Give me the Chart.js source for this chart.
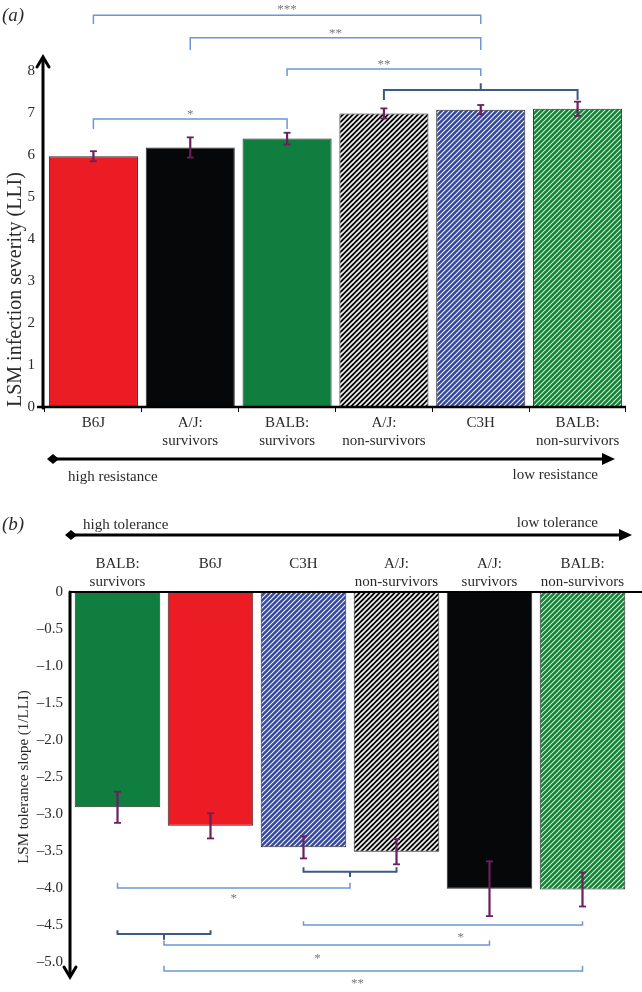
<!DOCTYPE html>
<html lang="en">
<head>
<meta charset="utf-8"/>
<title>LSM infection severity and tolerance</title>
<script src="https://cdn.jsdelivr.net/npm/chart.js"></script>
<style>
  body { margin: 0; background: #fff; }
  #wrap { position: relative; width: 642px; height: 992px; }
  canvas { position: absolute; left: 0; }
  #c1 { top: 0; }
  #c2 { top: 500px; }
</style>
</head>
<body>
<div id="wrap">
<canvas id="c1" width="642" height="500"></canvas>
<canvas id="c2" width="642" height="492"></canvas>
</div>
<script>
// panel (a): resistance
const strainsA = [['B6J'], ['A/J:', 'survivors'], ['BALB:', 'survivors'], ['A/J:', 'non-survivors'], ['C3H'], ['BALB:', 'non-survivors']];
const severity = [5.97, 6.18, 6.39, 6.99, 7.08, 7.10];
const severityErr = [0.12, 0.24, 0.14, 0.12, 0.11, 0.17];
const severityTicks = [0, 1, 2, 3, 4, 5, 6, 7, 8];

// panel (b): tolerance
const strainsB = [['BALB:', 'survivors'], ['B6J', ''], ['C3H', ''], ['A/J:', 'non-survivors'], ['A/J:', 'survivors'], ['BALB:', 'non-survivors']];
const slope = [-2.91, -3.16, -3.45, -3.51, -4.01, -4.02];
const slopeErr = [0.21, 0.17, 0.15, 0.17, 0.37, 0.23];

// significance brackets (category index, value units)
const bracketsA = [
  { from: 0, to: 4, y: 9.33, leg: 9.12, label: '***', labelY: 9.52 },
  { from: 1, to: 4, y: 8.79, leg: 8.50, label: '**', labelY: 8.93 },
  { from: 2, to: 4, y: 8.05, leg: 7.88, label: '**', labelY: 8.19 },
  { from: 3, to: 5, y: 7.55, leg: 7.31, curly: 4, tip: 7.71 },
  { from: 0, to: 2, y: 6.86, leg: 6.62, label: '*', labelY: 7.00 }
];
const bracketsB = [
  { from: 2, to: 3, y: -3.78, leg: -3.72, curly: 2.5, tip: -3.85 },
  { from: 0, to: 2.5, y: -4.00, leg: -3.93, label: '*', labelY: -4.11 },
  { from: 2, to: 5, y: -4.50, leg: -4.45, label: '*', labelY: -4.64, labelX: 3.69 },
  { from: 0, to: 1, y: -4.62, leg: -4.57, curly: 0.5, tip: -4.70 },
  { from: 0.5, to: 4, y: -4.77, leg: -4.71, label: '*', labelY: -4.93, labelX: 2.15 },
  { from: 0.5, to: 5, y: -5.12, leg: -5.05, label: '**', labelY: -5.27, labelX: 2.58 }
];

const SERIF = '"Liberation Serif", "DejaVu Serif", serif';
const TXT = '#2a2a2a';

function stripes(bg, fg, lw) {
  const s = 5;
  const c = document.createElement('canvas');
  c.width = c.height = s;
  const g = c.getContext('2d');
  g.fillStyle = bg; g.fillRect(0, 0, s, s);
  g.strokeStyle = fg; g.lineWidth = lw;
  g.beginPath();
  g.moveTo(-1, s + 1); g.lineTo(s + 1, -1);
  g.moveTo(-1, 1); g.lineTo(1, -1);
  g.moveTo(s - 1, s + 1); g.lineTo(s + 1, s - 1);
  g.stroke();
  return g.createPattern(c, 'repeat');
}

const RED = '#ec1c24', BLACK = '#060708', GREEN = '#0f7e3e';
const hBlack = stripes('#080808', '#f4f4f4', 1.6);
const hBlue = stripes('#33479f', '#eef0fb', 1.15);
const hGreen = stripes('#128236', '#d2efd4', 1.1);

function line(ctx, x1, y1, x2, y2) { ctx.beginPath(); ctx.moveTo(x1, y1); ctx.lineTo(x2, y2); ctx.stroke(); }

function errorBars(ctx, x, y, vals, errs) {
  ctx.strokeStyle = '#6b1f5f';
  vals.forEach((v, i) => {
    const px = x.getPixelForValue(i);
    const a = y.getPixelForValue(v + errs[i]), b = y.getPixelForValue(v - errs[i]);
    ctx.lineWidth = 2.2; line(ctx, px, a, px, b);
    ctx.lineWidth = 1.8; line(ctx, px - 3.5, a, px + 3.5, a); line(ctx, px - 3.5, b, px + 3.5, b);
  });
}

function brackets(ctx, x, y, list) {
  list.forEach(b => {
    const x1 = x.getPixelForValue(b.from), x2 = x.getPixelForValue(b.to);
    const yl = y.getPixelForValue(b.y), yg = y.getPixelForValue(b.leg);
    ctx.strokeStyle = b.curly !== undefined ? '#3d5a82' : '#6b98d2';
    ctx.lineWidth = b.curly !== undefined ? 2 : 1.5;
    ctx.beginPath();
    ctx.moveTo(x1, yg); ctx.lineTo(x1, yl); ctx.lineTo(x2, yl); ctx.lineTo(x2, yg);
    if (b.curly !== undefined) {
      const xm = x.getPixelForValue(b.curly);
      ctx.moveTo(xm, yl); ctx.lineTo(xm, y.getPixelForValue(b.tip));
    }
    ctx.stroke();
    if (b.label) {
      const lx = x.getPixelForValue(b.labelX !== undefined ? b.labelX : (b.from + b.to) / 2);
      ctx.fillStyle = '#7a7a7a';
      ctx.font = '13px ' + SERIF;
      ctx.textAlign = 'center'; ctx.textBaseline = 'middle';
      ctx.fillText(b.label, lx, y.getPixelForValue(b.labelY) + 2);
    }
  });
}

function hArrow(ctx, x1, x2, yy) {
  ctx.strokeStyle = '#000'; ctx.fillStyle = '#000'; ctx.lineWidth = 3.2;
  line(ctx, x1, yy, x2 - 8, yy);
  ctx.beginPath();
  ctx.moveTo(x1 - 6, yy); ctx.lineTo(x1, yy - 5); ctx.lineTo(x1 + 6, yy); ctx.lineTo(x1, yy + 5); ctx.closePath(); ctx.fill();
  ctx.beginPath();
  ctx.moveTo(x2, yy); ctx.lineTo(x2 - 13, yy - 6); ctx.lineTo(x2 - 13, yy + 6); ctx.closePath(); ctx.fill();
}

function label(ctx, t, px, py, align, font) {
  ctx.fillStyle = TXT; ctx.font = font || ('15px ' + SERIF);
  ctx.textAlign = align; ctx.textBaseline = 'middle';
  ctx.fillText(t, px, py);
}

const panelA = {
  id: 'panelA',
  afterDraw(chart) {
    const { ctx, chartArea: a, scales: { x, y } } = chart;
    ctx.save();
    ctx.strokeStyle = '#000'; ctx.lineCap = 'round';
    // y axis with arrow
    ctx.lineWidth = 3;
    line(ctx, a.left - 2, a.bottom + 1, a.left - 2, 59);
    ctx.beginPath(); ctx.moveTo(a.left - 8, 67); ctx.lineTo(a.left - 2, 57); ctx.lineTo(a.left + 4, 67); ctx.stroke();
    // x axis
    ctx.lineCap = 'butt'; ctx.lineWidth = 2.5;
    line(ctx, a.left - 8, a.bottom, a.right, a.bottom);
    errorBars(ctx, x, y, severity, severityErr);
    brackets(ctx, x, y, bracketsA);
    hArrow(ctx, 53, 615, 459);
    label(ctx, 'high resistance', 68, 477, 'left');
    label(ctx, 'low resistance', 598, 475, 'right');
    label(ctx, '(a)', 2, 16, 'left', 'italic 19px ' + SERIF);
    ctx.restore();
  }
};

const panelB = {
  id: 'panelB',
  afterDraw(chart) {
    const { ctx, chartArea: a, scales: { x, y } } = chart;
    ctx.save();
    ctx.strokeStyle = '#000'; ctx.lineCap = 'round';
    ctx.lineWidth = 3;
    line(ctx, a.left - 1, a.top, a.left - 1, 475);
    ctx.beginPath(); ctx.moveTo(a.left - 7, 467); ctx.lineTo(a.left - 1, 477); ctx.lineTo(a.left + 5, 467); ctx.stroke();
    ctx.lineCap = 'butt'; ctx.lineWidth = 2;
    line(ctx, a.left - 1, a.top, 642, a.top);
    errorBars(ctx, x, y, slope, slopeErr);
    brackets(ctx, x, y, bracketsB);
    hArrow(ctx, 71, 632, 35);
    label(ctx, 'high tolerance', 83, 25, 'left');
    label(ctx, 'low tolerance', 598, 23, 'right');
    label(ctx, '(b)', 2, 25, 'left', 'italic 19px ' + SERIF);
    ctx.restore();
  }
};

const tickFont = { family: SERIF, size: 15 };

new Chart(document.getElementById('c1'), {
  type: 'bar',
  data: {
    labels: strainsA,
    datasets: [{
      data: severity,
      backgroundColor: [RED, BLACK, GREEN, hBlack, hBlue, hGreen],
      borderColor: '#2b2b2b',
      borderWidth: 1,
      categoryPercentage: 1,
      barPercentage: 0.92
    }]
  },
  options: {
    responsive: false,
    animation: false,
    events: [],
    layout: { padding: { top: 71, right: 16, left: 0, bottom: 0 } },
    plugins: { legend: { display: false }, tooltip: { enabled: false } },
    scales: {
      x: {
        grid: { display: true, drawOnChartArea: false, tickLength: 5, color: '#000', lineWidth: 1 },
        border: { display: false },
        ticks: { font: tickFont, color: TXT, padding: 2, maxRotation: 0, autoSkip: false },
        afterFit(s) { s.height = 93; }
      },
      y: {
        min: 0, max: 8,
        afterBuildTicks(s) { s.ticks = severityTicks.map(v => ({ value: v })); },
        grid: { display: false, drawTicks: false, tickLength: 0 },
        border: { display: false },
        ticks: { font: tickFont, color: TXT, padding: 10 },
        title: { display: true, text: 'LSM infection severity (LLI)', align: 'start', color: TXT,
                 font: { family: SERIF, size: 20 }, padding: { top: 4, bottom: 0 } },
        afterFit(s) { s.width = 45; }
      }
    }
  },
  plugins: [panelA]
});

new Chart(document.getElementById('c2'), {
  type: 'bar',
  data: {
    labels: strainsB,
    datasets: [{
      data: slope,
      backgroundColor: [GREEN, RED, hBlue, hBlack, BLACK, hGreen],
      borderColor: '#2b2b2b',
      borderWidth: 1,
      categoryPercentage: 1,
      barPercentage: 0.92
    }]
  },
  options: {
    responsive: false,
    animation: false,
    events: [],
    layout: { padding: { top: 0, right: 13, left: 0, bottom: 30 } },
    plugins: { legend: { display: false }, tooltip: { enabled: false } },
    scales: {
      x: {
        position: 'top',
        grid: { display: false, drawTicks: false, tickLength: 0 },
        border: { display: false },
        ticks: { font: tickFont, color: TXT, padding: 1, maxRotation: 0, autoSkip: false },
        afterFit(s) { s.height = 92; }
      },
      y: {
        min: -5, max: 0,
        ticks: { stepSize: 0.5, font: tickFont, color: TXT, padding: 8,
                 callback: v => v === 0 ? '0' : '\u2013' + Math.abs(v).toFixed(1) },
        grid: { display: false, drawTicks: false, tickLength: 0 },
        border: { display: false },
        title: { display: true, text: 'LSM tolerance slope (1/LLI)', color: TXT,
                 font: { family: SERIF, size: 15 }, padding: { top: 15, bottom: 0 } },
        afterFit(s) { s.width = 71; }
      }
    }
  },
  plugins: [panelB]
});
</script>
</body>
</html>
